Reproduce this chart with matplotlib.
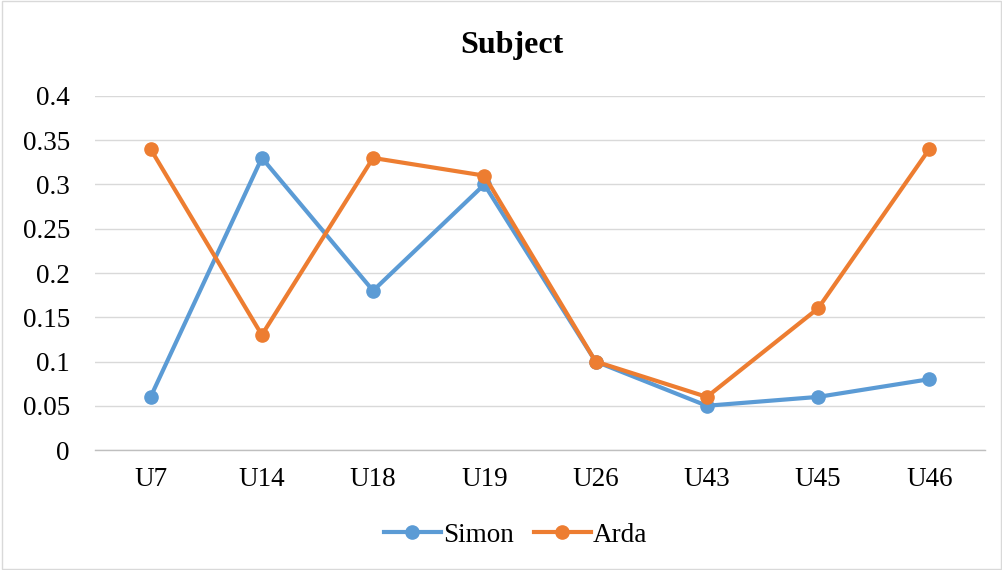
import matplotlib
matplotlib.use('Agg')
import matplotlib.pyplot as plt
from matplotlib.patches import Rectangle

plt.rcParams['font.family'] = ['Liberation Serif', 'DejaVu Serif']

# Data
categories = ['U7', 'U14', 'U18', 'U19', 'U26', 'U43', 'U45', 'U46']
simon = [0.06, 0.33, 0.18, 0.30, 0.10, 0.05, 0.06, 0.08]
arda = [0.34, 0.13, 0.33, 0.31, 0.10, 0.06, 0.16, 0.34]
y_ticks = [0, 0.05, 0.1, 0.15, 0.2, 0.25, 0.3, 0.35, 0.4]
y_labels = ['0', '0.05', '0.1', '0.15', '0.2', '0.25', '0.3', '0.35', '0.4']

fig = plt.figure(figsize=(10.03, 5.70), dpi=100)
ax = fig.add_axes([0.0947, 0.2105, 0.8873, 0.6211])

x = range(len(categories))
ax.plot(x, simon, color='#5B9BD5', linewidth=3, marker='o', markersize=9.5, label='Simon')
ax.plot(x, arda, color='#ED7D31', linewidth=3, marker='o', markersize=9.5, label='Arda')

ax.set_xlim(-0.5, len(categories) - 0.5)
ax.set_ylim(0, 0.4)
ax.set_yticks(y_ticks)
ax.set_yticklabels(y_labels)
ax.set_xticks(list(x))
ax.set_xticklabels(categories)
ax.tick_params(axis='both', length=0, labelsize=19.5, colors='black')
ax.tick_params(axis='y', pad=18)
ax.tick_params(axis='x', pad=12)

ax.grid(axis='y', color='#D9D9D9', linewidth=1)
ax.set_axisbelow(True)
for s in ['top', 'right', 'left']:
    ax.spines[s].set_visible(False)
ax.spines['bottom'].set_color('#BFBFBF')
ax.spines['bottom'].set_linewidth(1)

fig.text(0.51, 0.921, 'Subject', ha='center', va='center', fontsize=23, fontweight='bold')

fig.legend(loc='center', bbox_to_anchor=(0.514, 0.061), ncol=2, frameon=False,
           fontsize=19.5, handlelength=2.1, columnspacing=0.75, handletextpad=0.08)

fig.add_artist(Rectangle((0.0015, 0.002), 0.997, 0.996, transform=fig.transFigure,
                         fill=False, edgecolor='#D9D9D9', linewidth=1))

fig.savefig('out.png', dpi=100)
